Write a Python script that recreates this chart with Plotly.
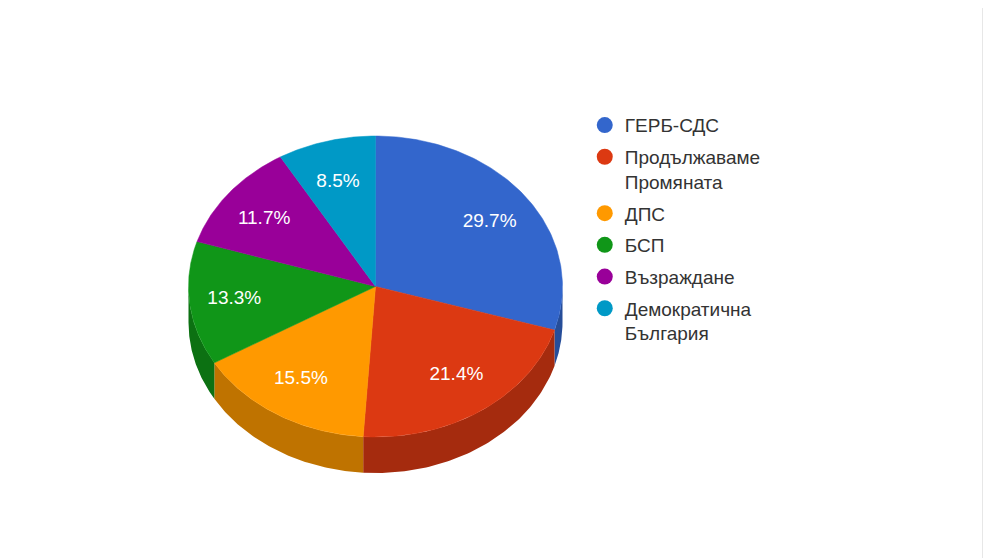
import plotly.graph_objects as go
import numpy as np

parties = ['ГЕРБ-СДС', 'Продължаваме<br>Промяната', 'ДПС', 'БСП', 'Възраждане', 'Демократична<br>България']
shares = [29.7, 21.4, 15.5, 13.3, 11.7, 8.5]

colors = ['#3366cc', '#dc3912', '#ff9900', '#109618', '#990099', '#0099c6']
side_colors = ['#264d99', '#a52b0e', '#bf7300', '#0c7112', '#730073', '#007394']

# pie geometry in pixels (y grows downwards); page body adds an 8px offset
cx, cy = 367.5, 278.5
rx, ry = 187.0, 150.5
depth = 36.0


def point(t, dy=0.0):
    # t in degrees, clockwise from 12 o'clock
    r = np.radians(t)
    return cx + rx * np.sin(r), cy - ry * np.cos(r) + dy


fig = go.Figure()

total = sum(shares)
bounds = np.concatenate([[0], np.cumsum(shares)]) / total * 360

# visible sides first (front half of the disc)
for i in range(len(shares)):
    a, b = max(bounds[i], 90), min(bounds[i + 1], 270)
    if b <= a:
        continue
    ts = np.linspace(a, b, 80)
    x_top, y_top = point(ts)
    x_bot, y_bot = point(ts[::-1], depth)
    fig.add_trace(go.Scatter(
        x=np.concatenate([x_top, x_bot]), y=np.concatenate([y_top, y_bot]),
        fill='toself', fillcolor=side_colors[i], mode='lines',
        line=dict(width=0, color=side_colors[i]), hoverinfo='skip', showlegend=False))

# top faces
for i in range(len(shares)):
    ts = np.linspace(bounds[i], bounds[i + 1], 120)
    xs, ys = point(ts)
    fig.add_trace(go.Scatter(
        x=np.concatenate([[cx], xs, [cx]]), y=np.concatenate([[cy], ys, [cy]]),
        fill='toself', fillcolor=colors[i], mode='lines',
        line=dict(width=0.5, color=colors[i]), hoverinfo='skip', showlegend=False))

# percentage labels
mids = (bounds[:-1] + bounds[1:]) / 2
lx = cx + 0.76 * rx * np.sin(np.radians(mids))
ly = cy - 0.72 * ry * np.cos(np.radians(mids))
fig.add_trace(go.Scatter(
    x=lx, y=ly, mode='text',
    text=['%.1f%%' % (s / total * 100) for s in shares],
    textfont=dict(color='white', size=19, family='Arial, Liberation Sans'),
    hoverinfo='skip', showlegend=False))

# legend entries
for i, p in enumerate(parties):
    fig.add_trace(go.Scatter(
        x=[None], y=[None], mode='markers', name=p, legendgroup=str(i),
        marker=dict(color=colors[i], size=19, symbol='circle')))

fig.update_layout(
    width=991, height=558,
    margin=dict(l=0, r=0, t=0, b=0),
    plot_bgcolor='white', paper_bgcolor='white',
    xaxis=dict(range=[0, 991], visible=False, fixedrange=True),
    yaxis=dict(range=[558, 0], visible=False, fixedrange=True),
    showlegend=True,
    legend=dict(x=0.582, y=0.824, xanchor='left', yanchor='top', valign='top',
                font=dict(size=19, color='#333333', family='Arial, Liberation Sans'),
                tracegroupgap=4, bgcolor='rgba(0,0,0,0)'),
    shapes=[dict(type='line', xref='paper', yref='paper', x0=0.984, x1=0.984, y0=0, y1=1,
                 line=dict(color='#e4e4e4', width=2))],
)

fig.write_html("out.html")
